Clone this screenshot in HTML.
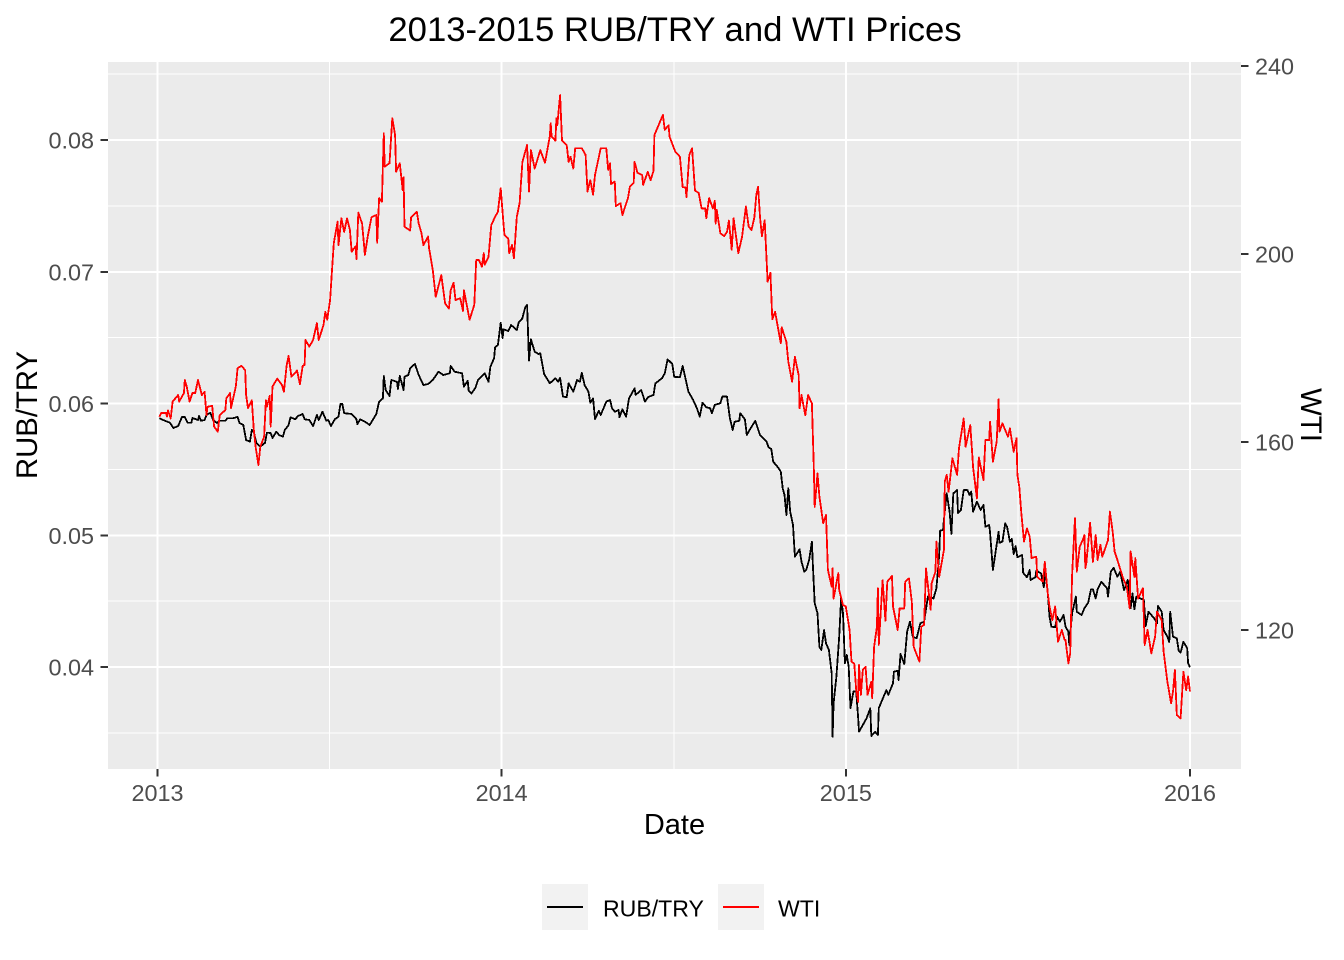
<!DOCTYPE html>
<html lang="en">
<head>
<meta charset="utf-8">
<title>2013-2015 RUB/TRY and WTI Prices</title>
<style>
html,body{margin:0;padding:0;background:#fff;width:1344px;height:960px;overflow:hidden}
svg{display:block;font-family:"Liberation Sans",Arial,sans-serif}
line,polyline{shape-rendering:crispEdges}
</style>
</head>
<body>
<svg id="chart" xmlns="http://www.w3.org/2000/svg" width="1344" height="960" viewBox="0 0 1344 960">
<rect x="0" y="0" width="1344" height="960" fill="#ffffff"/>
<rect x="108" y="62" width="1133" height="707" fill="#ebebeb"/>
<g id="grid"></g>
<g id="series"></g>
<g id="axes"></g>
<text x="675" y="41" font-size="34.7" text-anchor="middle" fill="#000">2013-2015 RUB/TRY and WTI Prices</text>
<text x="674.5" y="834" font-size="29" text-anchor="middle" fill="#000">Date</text>
<text transform="translate(37 415) rotate(-90)" font-size="29.3" text-anchor="middle" fill="#000">RUB/TRY</text>
<text transform="translate(1301 415) rotate(90)" font-size="29.3" text-anchor="middle" fill="#000">WTI</text>
<g>
<g>
<rect x="542" y="884" width="46" height="46" fill="#f2f2f2"/>
<line x1="547" x2="583" y1="907" y2="907" stroke="#000" stroke-width="2"/>
<text x="603" y="916.5" font-size="23.1" fill="#000">RUB/TRY</text>
</g>
<g>
<rect x="718" y="884" width="46" height="46" fill="#f2f2f2"/>
<line x1="723" x2="759" y1="907" y2="907" stroke="#ff0000" stroke-width="2"/>
<text x="778" y="916.5" font-size="23.1" fill="#000">WTI</text>
</g>
</g>
</svg>
<script>
const yearLabels = ["2013", "2014", "2015", "2016"];
const yearDays = [0, 365, 730, 1095];
const minorYearDays = [182.5, 547.5, 912.5];
const leftTicks = [0.04, 0.05, 0.06, 0.07, 0.08];
const leftTickLabels = ["0.04", "0.05", "0.06", "0.07", "0.08"];
const leftMinorTicks = [0.035, 0.045, 0.055, 0.065, 0.075, 0.085];
const rightTicks = [120, 160, 200, 240];
const rightTickLabels = ["120", "160", "200", "240"];

const rubDays = [2,6,13,17,22,26,29,32,36,37,43,44,46,50,52,56,59,63,66,72,74,80,85,87,91,94,98,100,102,105,109,114,116,120,122,126,129,133,135,139,141,146,149,154,156,161,165,169,171,175,179,181,184,188,192,194,196,198,206,211,212,215,220,225,232,235,239,240,242,246,248,254,255,257,261,262,266,268,273,277,282,287,292,298,303,310,311,315,323,325,329,330,333,337,340,347,351,353,357,358,361,364,366,367,372,375,381,383,387,390,392,394,396,400,404,406,410,416,422,425,427,430,434,436,441,445,448,450,453,457,459,462,464,468,470,476,480,482,485,489,490,493,497,500,506,507,513,517,520,526,528,535,538,541,546,548,554,557,563,568,572,575,578,582,586,588,591,597,599,604,607,610,612,617,618,623,625,629,634,639,646,648,651,653,658,661,663,665,667,669,671,674,676,681,683,686,688,691,694,695,697,700,702,704,707,709,712,715,716,717,720,723,725,727,729,731,733,735,738,741,743,744,752,756,757,761,764,765,770,773,775,780,781,785,786,788,792,795,798,801,805,809,813,817,823,826,829,830,833,834,837,840,842,844,848,849,852,855,859,861,863,865,869,873,876,878,882,883,886,892,893,896,899,901,904,906,908,910,912,917,918,922,925,926,931,932,937,940,941,944,946,948,952,954,957,961,963,966,967,970,974,975,980,983,987,990,992,995,997,1001,1007,1008,1011,1014,1018,1021,1025,1029,1032,1034,1036,1038,1046,1048,1051,1057,1060,1061,1065,1067,1071,1073,1074,1077,1081,1083,1085,1088,1092,1093,1095];
const rubValues = [0.05888,0.05875,0.05854,0.05814,0.05829,0.05898,0.05898,0.05854,0.05854,0.0589,0.05875,0.05905,0.05869,0.05875,0.05913,0.0593,0.05875,0.05852,0.05869,0.05869,0.05888,0.05888,0.05898,0.05852,0.05837,0.05723,0.0571,0.05799,0.05786,0.057,0.05672,0.05702,0.05778,0.05776,0.05738,0.05786,0.05761,0.05748,0.05799,0.05837,0.05895,0.0588,0.05905,0.0592,0.0588,0.05875,0.05829,0.05913,0.05875,0.05938,0.05869,0.05875,0.05829,0.0588,0.059,0.05996,0.05996,0.05926,0.0592,0.0588,0.05844,0.0588,0.05862,0.05837,0.0592,0.06014,0.06039,0.06209,0.06102,0.06057,0.06178,0.06165,0.0611,0.06209,0.06102,0.06203,0.06216,0.06269,0.063,0.06216,0.0614,0.06148,0.06178,0.06241,0.06216,0.06229,0.06285,0.06241,0.06229,0.06128,0.06173,0.06097,0.06077,0.06118,0.06181,0.06229,0.06165,0.06279,0.06343,0.06427,0.06444,0.06613,0.06497,0.06563,0.0655,0.06596,0.06558,0.06613,0.06647,0.0673,0.06748,0.06325,0.06487,0.06393,0.06376,0.06381,0.06224,0.06153,0.06191,0.06165,0.06194,0.06052,0.06047,0.06153,0.0609,0.06178,0.06165,0.06234,0.0614,0.0609,0.06006,0.06039,0.0588,0.05945,0.05913,0.06014,0.06027,0.05964,0.05938,0.05951,0.05895,0.05956,0.059,0.06039,0.06115,0.06065,0.06102,0.06014,0.06047,0.06065,0.06153,0.06191,0.06229,0.06335,0.063,0.06203,0.06199,0.06285,0.0609,0.06027,0.05964,0.059,0.06006,0.05971,0.05964,0.05926,0.05989,0.06002,0.06052,0.06052,0.05888,0.05799,0.05862,0.05869,0.05926,0.0588,0.05761,0.05812,0.05869,0.05761,0.0571,0.05668,0.05655,0.05558,0.05516,0.05482,0.05356,0.05306,0.05154,0.05356,0.05179,0.05078,0.04837,0.04893,0.04799,0.04723,0.04736,0.04812,0.04951,0.04787,0.04484,0.04408,0.04154,0.04129,0.04281,0.0418,0.04129,0.03952,0.03471,0.03725,0.03926,0.0423,0.04521,0.04408,0.04028,0.04091,0.04002,0.03687,0.03813,0.03813,0.03623,0.03509,0.03611,0.03687,0.03476,0.03509,0.03484,0.03687,0.03775,0.03825,0.03788,0.03876,0.03964,0.03972,0.03901,0.04099,0.04023,0.04268,0.04344,0.0423,0.04218,0.04332,0.04344,0.04534,0.04521,0.04597,0.0485,0.05035,0.0504,0.05116,0.05318,0.05179,0.0501,0.05318,0.05343,0.05167,0.05192,0.05343,0.05343,0.05306,0.05331,0.05179,0.05255,0.05192,0.0523,0.05065,0.05078,0.05017,0.04736,0.05027,0.04943,0.04951,0.05091,0.05063,0.04951,0.04972,0.04858,0.04918,0.04833,0.0485,0.04716,0.04681,0.04736,0.0466,0.04681,0.04731,0.04711,0.04605,0.04723,0.04584,0.04382,0.04306,0.04301,0.04382,0.04344,0.04395,0.04306,0.04268,0.04167,0.04408,0.04534,0.0442,0.04395,0.04446,0.04488,0.0459,0.0459,0.04521,0.0459,0.04647,0.04597,0.04534,0.04723,0.04754,0.04685,0.04723,0.04584,0.0466,0.04446,0.04559,0.04438,0.04534,0.04509,0.04311,0.0442,0.0437,0.04332,0.04463,0.0442,0.04281,0.0423,0.0419,0.0442,0.0423,0.04218,0.04124,0.04109,0.04192,0.04142,0.04028,0.03998];

const wtiDays = [2,4,9,10,11,14,16,22,23,28,29,31,34,37,40,43,47,50,52,53,58,60,64,66,72,73,77,78,81,83,85,89,93,94,96,100,102,104,107,109,113,115,116,119,120,122,127,132,134,137,139,142,148,151,154,156,157,161,165,169,171,176,178,180,183,185,187,191,192,195,198,201,204,206,210,211,213,217,220,223,227,232,233,235,238,240,241,246,249,252,253,257,260,261,262,268,269,275,277,280,282,287,288,292,295,301,305,309,311,314,316,321,324,325,331,336,338,341,344,346,347,351,354,358,361,364,367,368,372,373,376,378,381,384,387,392,394,396,400,406,411,416,417,418,422,423,424,427,429,434,436,438,441,443,450,454,456,459,462,464,470,476,478,480,481,485,486,491,493,499,501,505,506,509,514,515,520,523,526,527,536,538,542,543,549,554,557,560,561,564,567,570,574,577,581,582,585,589,591,592,593,597,601,604,606,609,611,616,620,624,627,630,633,635,637,639,641,644,646,647,650,652,655,661,662,667,669,673,676,680,681,683,687,690,694,696,697,700,702,706,709,711,715,716,717,722,723,727,730,734,736,739,741,743,744,746,748,751,753,757,758,760,763,764,765,769,772,774,779,780,785,787,792,793,797,800,802,808,810,813,815,820,821,825,826,829,834,835,837,839,843,848,850,855,857,862,864,865,869,871,876,878,882,883,886,890,892,893,896,902,904,908,911,912,914,916,919,922,925,927,932,933,939,941,944,946,949,952,955,959,962,963,966,968,970,973,975,978,982,983,984,985,989,992,995,997,1000,1002,1008,1010,1013,1015,1018,1024,1028,1031,1032,1036,1037,1040,1045,1047,1050,1054,1058,1060,1065,1067,1071,1075,1077,1079,1081,1085,1088,1091,1093,1095];
const wtiValues = [165.4,166.2,166.2,165.4,166.7,165,168.6,170,168.6,170.4,173.2,171.8,168.6,170.4,170.4,173.2,170,170.7,165.7,167.5,167.7,163.3,162.2,165.7,166.8,169.3,170.4,167.2,170,171.8,175.7,176.2,175.3,170,167.2,168.9,162.9,159,155.1,159,161.1,168.9,167.5,169.8,163.3,171.8,173.5,172.1,170.7,176.4,178.3,173.9,175.2,172.3,176.2,176.4,181.7,180.3,181.7,185.3,181.7,184.9,187.7,186,190.2,196.2,202.3,206.9,201.9,207.6,204.7,207.6,205.1,200.5,201.6,198.9,208.8,206.5,199.8,203.8,207.8,208.3,202.4,211.9,211.1,225.7,218.6,219.3,228.9,225.3,217.5,219.3,213.6,216.3,205.8,205,207.8,209,206.5,204.4,201.9,203.7,201.2,196.6,190.9,195.5,189.5,188.4,192.3,193.9,190.2,190.6,187.9,192.3,186,189.2,198.7,198.7,197.3,200.2,197.7,199.4,206.2,207.9,209,214,206.2,204,203.3,200.2,201.9,199.1,207.9,210.8,219.6,223.2,213.3,222.1,218.2,222.1,219.4,225,227.8,225,224.1,228.9,227.4,233.8,224.1,223.2,219.6,220.7,218.2,222.5,222.5,221.1,213.3,215.7,212.6,216.8,222.5,222.5,217.9,219.3,214.9,215.4,210.2,210.8,208.3,211.9,214.3,215.2,219.6,217.3,216.8,214.7,217.5,215.7,217.7,225.3,229.6,226.4,227.4,225,221.8,220.7,214.2,214.2,212.1,221.1,222.5,213.5,213,209.7,209.7,207.6,211.9,209.7,211.3,206.5,209.4,204.4,203.8,204.7,207.1,200.9,207.6,200.2,203.7,210.1,205.8,205.1,207.8,212.6,214.3,207.9,203.8,207.2,198.7,194.1,196,186.1,187.7,181,184.4,181.3,177.1,172.8,178.1,174.2,167.2,170,165.7,170,168.2,154.7,146.2,153.3,148.4,142.7,144.5,132.8,129.2,133.1,126.7,132.1,128.5,125.3,125,120,113.3,112.8,107.2,104.7,112.6,106.2,111.5,112.2,106.2,109,105.5,116.4,120.7,128.9,116.8,130.6,122,130.3,131.5,125,120,124.6,124.6,130.3,131,126,116.4,113.3,120.7,121.1,133.1,124.3,129.9,132.4,138.8,131.3,137,151.6,153,149.4,156.5,153,158.7,165,159,163.6,157.6,154.6,148,156.7,151.9,160.4,160.4,164.3,155.8,160.1,169.1,162.2,164,161.1,162.9,157.9,160.8,153,150.5,145.2,138.8,141.6,139.9,135.3,135.6,131.3,130.3,134.5,128.1,125,122.1,125,117.5,120,117.9,117.9,112.9,115,131.7,143.8,132.4,137.7,139.5,140.2,133.2,134.2,142.8,134.5,140.2,134.9,138.1,135.6,139.1,145.2,140.9,136.7,134.9,131,129.2,124.6,136.7,131.3,135.3,126.7,128.9,116.8,120,115,118.6,123.9,122.1,115.4,109,104.4,106.9,111.5,101.9,101.2,111.1,107.2,110.1,106.9];

const NS = "http://www.w3.org/2000/svg";
const gridGroup = document.getElementById("grid");
const seriesGroup = document.getElementById("series");
const axesGroup = document.getElementById("axes");
const PANEL_LEFT = 108, PANEL_RIGHT = 1241, PANEL_TOP = 62, PANEL_BOTTOM = 769;

function xScale(day) { return 157.5 + day * 1032.5 / 1095; }
function yLeft(value) { return 403.5 - (value - 0.06) * 13175; }
function yRight(value) { return 66 + (240 - value) * 4.7; }

function makeLine(parent, x1, y1, x2, y2, stroke, width) {
  const el = document.createElementNS(NS, "line");
  el.setAttribute("x1", x1);
  el.setAttribute("y1", y1);
  el.setAttribute("x2", x2);
  el.setAttribute("y2", y2);
  el.setAttribute("stroke", stroke);
  el.setAttribute("stroke-width", width);
  parent.appendChild(el);
  return el;
}

function makeText(parent, x, y, content, anchor) {
  const el = document.createElementNS(NS, "text");
  el.setAttribute("x", x);
  el.setAttribute("y", y);
  el.setAttribute("font-size", "23.4");
  el.setAttribute("fill", "#4d4d4d");
  el.setAttribute("text-anchor", anchor);
  el.textContent = content;
  parent.appendChild(el);
  return el;
}

leftMinorTicks.forEach(function (v) {
  const el = makeLine(gridGroup, PANEL_LEFT, yLeft(v), PANEL_RIGHT, yLeft(v), "#ffffff", 1);
  
  
});
minorYearDays.forEach(function (d) {
  const el = makeLine(gridGroup, xScale(d), PANEL_TOP, xScale(d), PANEL_BOTTOM, "#ffffff", 1);
  
  
});
leftTicks.forEach(function (v, i) {
  const y = yLeft(v);
  const grid = makeLine(gridGroup, PANEL_LEFT, y, PANEL_RIGHT, y, "#ffffff", 2);
  
  
  const tick = makeLine(axesGroup, 100.5, y, PANEL_LEFT, y, "#333333", 2);
  
  
  const label = makeText(axesGroup, 94, y + 8.5, leftTickLabels[i], "end");
  
  
});
yearDays.forEach(function (d, i) {
  const x = xScale(d);
  const grid = makeLine(gridGroup, x, PANEL_TOP, x, PANEL_BOTTOM, "#ffffff", 2);
  
  
  const tick = makeLine(axesGroup, x, PANEL_BOTTOM, x, PANEL_BOTTOM + 7.5, "#333333", 2);
  
  
  const label = makeText(axesGroup, x, 801, yearLabels[i], "middle");
  
  
});
rightTicks.forEach(function (v, i) {
  const y = yRight(v);
  const tick = makeLine(axesGroup, PANEL_RIGHT, y, PANEL_RIGHT + 7.5, y, "#333333", 2);
  
  
  const label = makeText(axesGroup, 1255, y + 8.5, rightTickLabels[i], "start");
  
  
});

function buildPoints(days, values, yScale) {
  return days.map(function (d, i) {
    return xScale(d).toFixed(1) + "," + yScale(values[i]).toFixed(1);
  }).join(" ");
}

const rubLine = document.createElementNS(NS, "polyline");


rubLine.setAttribute("points", buildPoints(rubDays, rubValues, yLeft));
rubLine.setAttribute("fill", "none");
rubLine.setAttribute("stroke", "#000000");
rubLine.setAttribute("stroke-width", "1.8");
rubLine.setAttribute("stroke-linejoin", "round");
seriesGroup.appendChild(rubLine);

const wtiLine = document.createElementNS(NS, "polyline");


wtiLine.setAttribute("points", buildPoints(wtiDays, wtiValues, yRight));
wtiLine.setAttribute("fill", "none");
wtiLine.setAttribute("stroke", "#ff0000");
wtiLine.setAttribute("stroke-width", "1.8");
wtiLine.setAttribute("stroke-linejoin", "round");
seriesGroup.appendChild(wtiLine);
</script>
</body>
</html>
